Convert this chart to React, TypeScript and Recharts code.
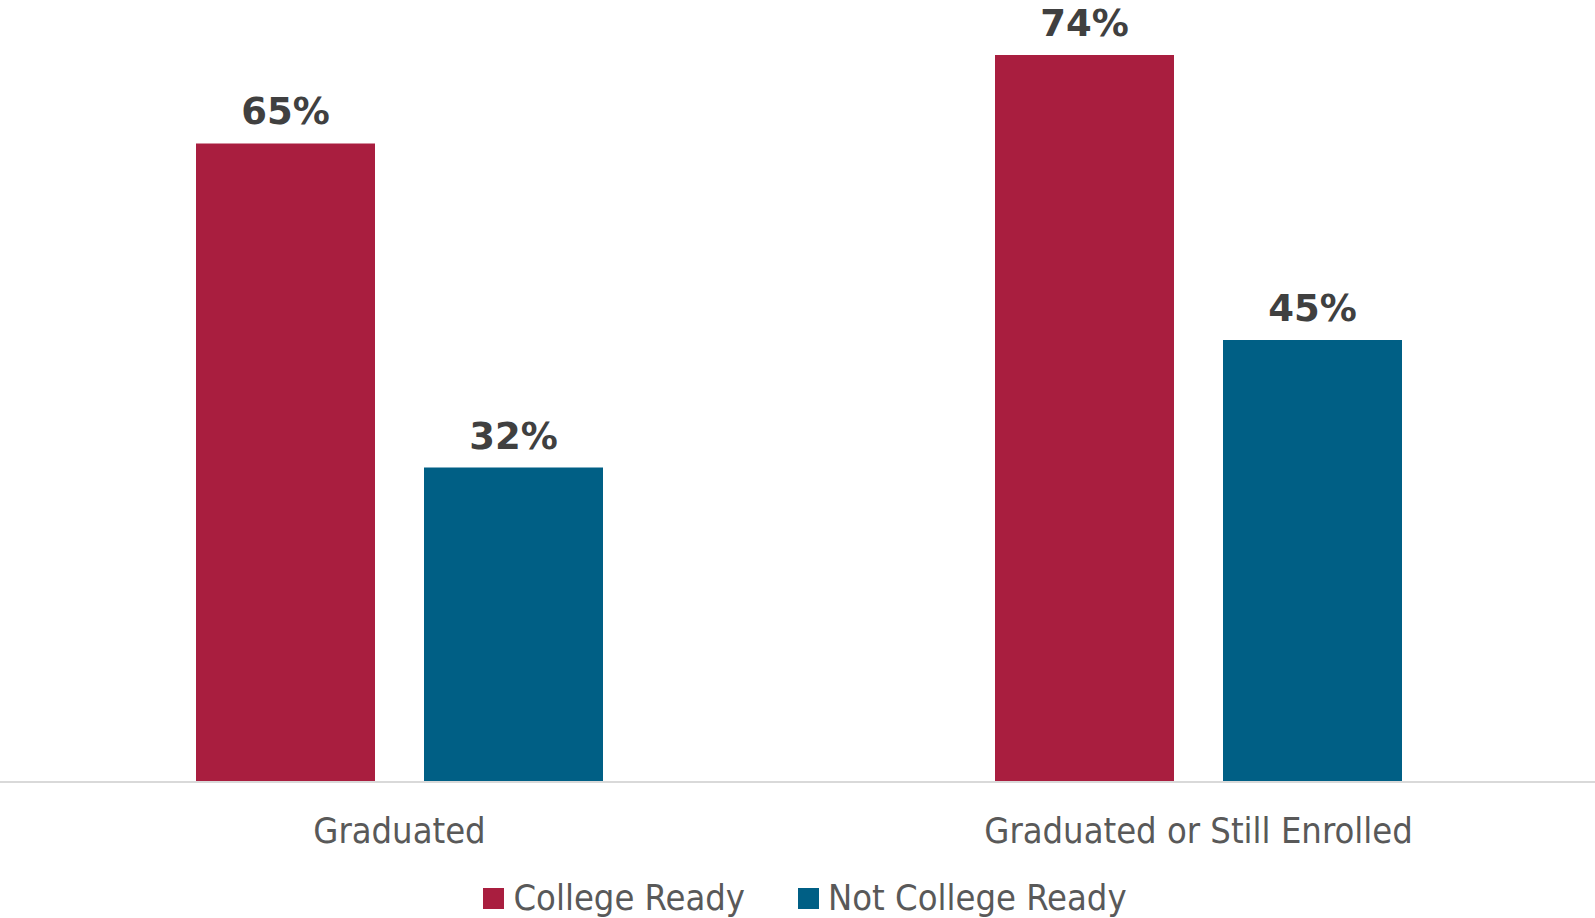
import { BarChart, Bar, XAxis, YAxis, Legend, LabelList } from 'recharts';

const categories = ['Graduated', 'Graduated or Still Enrolled'];
const collegeReady = [65, 74];
const notCollegeReady = [32, 45];

const seriesInfo = [
  { key: 'ready', name: 'College Ready', color: '#A91E3F' },
  { key: 'notReady', name: 'Not College Ready', color: '#005F85' },
];

const data = categories.map((c, i) => ({
  category: c,
  ready: collegeReady[i],
  notReady: notCollegeReady[i],
}));

const axisFont = '"DejaVu Sans Condensed", "DejaVu Sans", sans-serif';

function LegendBox() {
  return (
    <div
      style={{
        height: 40,
        display: 'flex',
        justifyContent: 'center',
        alignItems: 'center',
        paddingLeft: 12,
        fontFamily: axisFont,
        fontSize: 36,
        lineHeight: '40px',
        color: '#595959',
      }}
    >
      {seriesInfo.map((s, i) => (
        <div key={s.key} style={{ display: 'flex', alignItems: 'center', marginLeft: i ? 53 : 0 }}>
          <span style={{ display: 'inline-block', width: 21, height: 21, background: s.color, marginRight: 9 }} />
          <span>{s.name}</span>
        </div>
      ))}
    </div>
  );
}

export default function App() {
  return (
    <div style={{ position: 'absolute', left: 0, top: 0, width: 1595, height: 918, background: '#fff' }}>
      <BarChart
        width={1595}
        height={918}
        data={data}
        margin={{ top: -4, right: -3, bottom: 0, left: 0 }}
        barSize={179}
        barGap={49}
      >
        <XAxis
          dataKey="category"
          height={96}
          axisLine={{ stroke: '#D9D9D9', strokeWidth: 2 }}
          tickLine={false}
          tickSize={0}
          tickMargin={35}
          tick={{ fill: '#595959', fontSize: 36, fontFamily: axisFont }}
        />
        <YAxis hide domain={[0, 80]} />
        <Legend verticalAlign="bottom" content={() => <LegendBox />} />
        {seriesInfo.map((s) => (
          <Bar key={s.key} dataKey={s.key} name={s.name} fill={s.color} isAnimationActive={false}>
            <LabelList
              dataKey={s.key}
              position="top"
              offset={19}
              formatter={(v: any) => `${v}%`}
              style={{ fill: '#404040', fontSize: 37, fontWeight: 'bold', fontFamily: '"DejaVu Sans", sans-serif' }}
            />
          </Bar>
        ))}
      </BarChart>
    </div>
  );
}
